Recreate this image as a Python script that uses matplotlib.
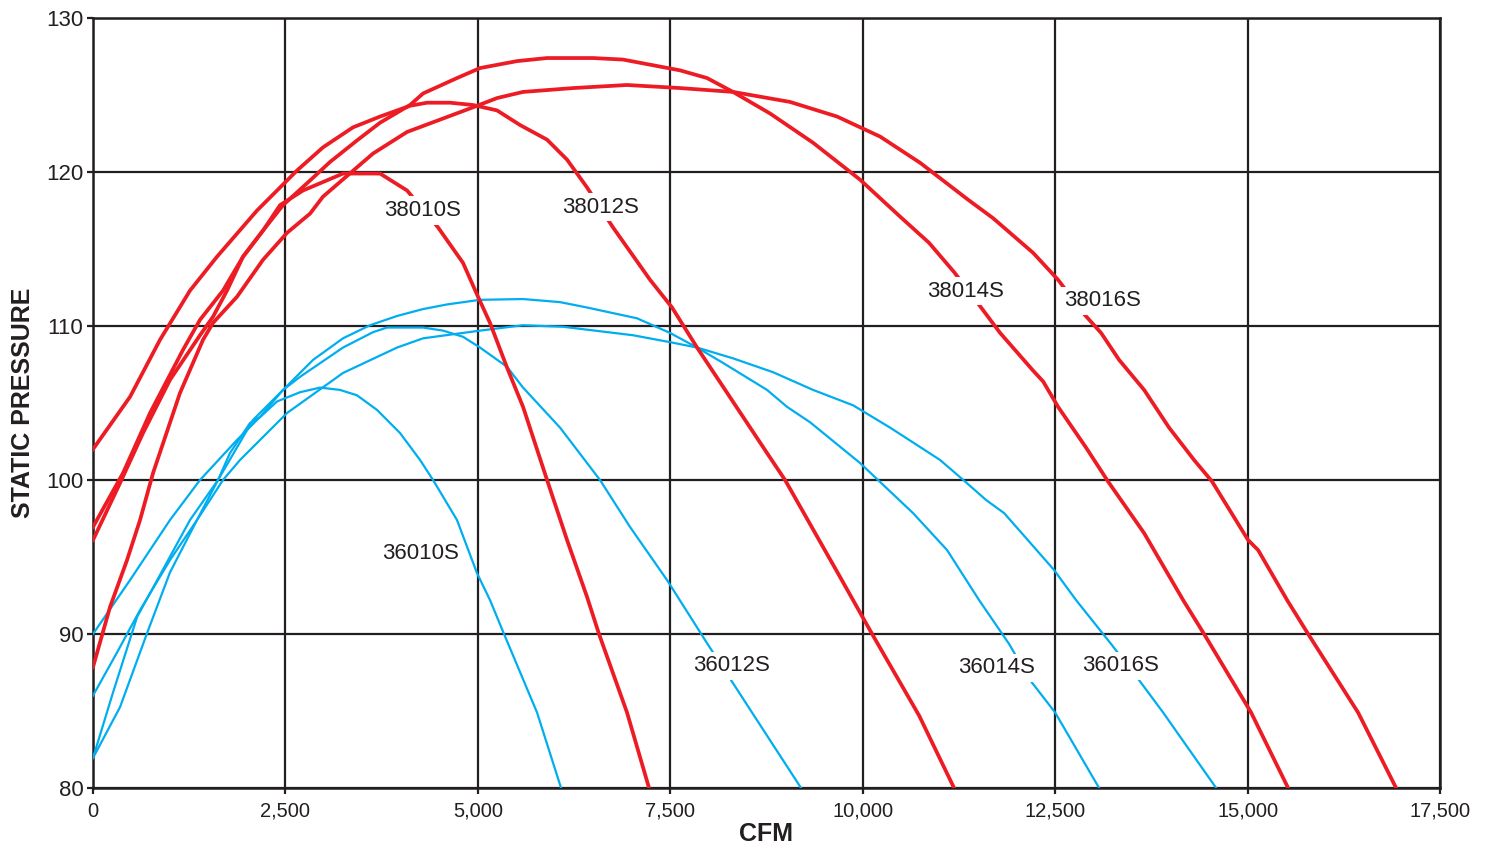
import matplotlib
matplotlib.use('Agg')
import matplotlib.pyplot as plt

plt.rcParams['font.family'] = ['Liberation Sans', 'DejaVu Sans']

# red curves (38xxx series)
cfm_38010 = [0, 351, 650, 1000, 1390, 1559, 1741, 1949, 2209, 2430, 2729, 3248, 3729, 4080,
             4483, 4807, 5002, 5158, 5379, 5587, 5899, 6159, 6419, 6574, 6938, 7224]
sp_38010 = [96.1, 99.8, 103.05, 106.5, 109.4, 110.6, 112.3, 114.5, 116.2, 117.85, 118.8, 119.9,
            119.9, 118.8, 116.4, 114.1, 111.9, 110.2, 107.3, 104.75, 100.0, 96.1, 92.4, 90.0,
            84.9, 80.0]

cfm_38012 = [0, 481, 870, 1260, 1611, 2131, 2651, 2988, 3378, 3729, 4119, 4340, 4638, 4937,
             5249, 5548, 5899, 6159, 6418, 6756, 7237, 7523, 7848, 8757, 8991, 9706, 10122,
             10733, 11187]
sp_38012 = [102.0, 105.4, 109.1, 112.3, 114.5, 117.5, 120.1, 121.6, 122.9, 123.6, 124.3, 124.5,
            124.5, 124.35, 124.0, 123.05, 122.1, 120.8, 119.0, 116.4, 113.0, 111.2, 108.6,
            101.75, 100.0, 93.7, 90.0, 84.7, 80.0]

cfm_38014 = [0, 390, 741, 1169, 1390, 1689, 1949, 2209, 2469, 2820, 3079, 3430, 3729,
             4119, 4288, 4729, 5028, 5509, 5899, 6497, 6886, 7627, 7978, 8315, 8796, 9355,
             9966, 10486, 10862, 11187, 11538, 11785, 12214, 12344, 12538, 12902, 13188,
             13656, 14163, 14435, 15046, 15527]
sp_38014 = [96.95, 100.45, 104.35, 108.45, 110.4, 112.3, 114.5, 116.2, 117.85, 119.45,
            120.65, 122.05, 123.2, 124.35, 125.1, 126.1, 126.75, 127.2, 127.4, 127.4, 127.3,
            126.6, 126.1, 125.2, 123.8, 121.9, 119.5, 117.1, 115.4, 113.5, 111.2, 109.55,
            107.1, 106.4, 104.75, 102.1, 99.9, 96.55, 92.2, 90.0, 84.9, 80.0]

cfm_38016 = [0, 221, 442, 611, 780, 1130, 1429, 1559, 1871, 2209, 2521, 2820, 2988, 3638,
             4080, 4937, 5249, 5587, 6237, 6938, 7627, 8315, 9056, 9667, 10226, 10745, 11369,
             11694, 12214, 12538, 12889, 13097, 13331, 13656, 13980, 14305, 14539, 15007,
             15137, 15514, 15787, 16436, 16930]
sp_38016 = [87.85, 91.75, 94.8, 97.4, 100.45, 105.65, 109.1, 110.2, 111.9, 114.3, 116.05,
            117.3, 118.4, 121.2, 122.6, 124.2, 124.8, 125.2, 125.45, 125.65, 125.45, 125.2,
            124.55, 123.6, 122.3, 120.6, 118.2, 117.0, 114.75, 113.0, 110.7, 109.55, 107.8,
            105.85, 103.4, 101.3, 99.9, 96.1, 95.45, 92.2, 90.0, 84.9, 80.0]

# blue curves (36xxx series)
cfm_36010 = [0, 481, 1000, 1390, 1871, 2131, 2391, 2690, 2950, 3209, 3430, 3690, 3989, 4249,
             4418, 4729, 4989, 5158, 5340, 5769, 6081]
sp_36010 = [90.0, 93.5, 97.4, 100.0, 102.6, 103.9, 105.1, 105.7, 106.0, 105.85, 105.5, 104.55,
            103.05, 101.3, 100.0, 97.4, 93.95, 92.2, 90.0, 84.9, 80.0]

cfm_36012 = [0, 312, 442, 611, 1000, 1351, 1624, 1780, 2040, 2170, 2469, 2690, 3248, 3638,
             3820, 4288, 4548, 4807, 5028, 5379, 5587, 6068, 6587, 6977, 7458, 7991, 8290,
             8562, 9199]
sp_36012 = [86.0, 88.8, 90.0, 91.55, 94.8, 97.4, 100.0, 101.75, 103.7, 104.1, 105.85, 106.7,
            108.6, 109.6, 109.9, 109.9, 109.7, 109.3, 108.6, 107.35, 106.0, 103.4, 100.0,
            96.95, 93.5, 89.3, 87.0, 84.9, 80.0]

cfm_36014 = [0, 260, 572, 1260, 1624, 2079, 2599, 2859, 3248, 3599, 3950, 4288, 4600, 5028,
             5587, 6068, 6419, 7068, 7497, 7848, 8186, 8757, 9017, 9316, 9966, 10654, 11096,
             11512, 11902, 12175, 12500, 13071]
sp_36014 = [81.95, 86.2, 91.1, 97.4, 100.0, 103.9, 106.5, 107.8, 109.2, 110.05, 110.65, 111.1,
            111.4, 111.7, 111.75, 111.55, 111.2, 110.5, 109.55, 108.6, 107.6, 105.85, 104.75,
            103.75, 101.1, 97.85, 95.45, 92.2, 89.35, 87.0, 84.9, 80.0]

cfm_36016 = [0, 351, 702, 1000, 1351, 1689, 1910, 2521, 3248, 3950, 4288, 5028, 5587, 6107,
             7016, 7497, 7848, 8315, 8835, 9355, 9875, 10356, 11005, 11330, 11603, 11837,
             12110, 12487, 12772, 13227, 13591, 13903, 14592]
sp_36016 = [81.95, 85.25, 90.05, 94.0, 97.4, 100.0, 101.3, 104.35, 106.95, 108.6, 109.2, 109.7,
            110.05, 109.95, 109.4, 108.95, 108.6, 107.9, 107.0, 105.85, 104.85, 103.4, 101.3,
            99.9, 98.7, 97.85, 96.3, 94.15, 92.2, 89.35, 87.0, 84.9, 80.0]

# label text and where it sits (cfm, static pressure)
labels = ['38010S', '38012S', '38014S', '38016S', '36010S', '36012S', '36014S', '36016S']
label_x = [4280, 6600, 11330, 13120, 4250, 8300, 11740, 13350]
label_y = [117.5, 117.7, 112.25, 111.65, 95.2, 87.95, 87.8, 87.95]

red = '#ed1c24'
blue = '#00aeef'
ink = '#231f20'

fig = plt.figure(figsize=(14.88, 8.5), dpi=100)
ax = fig.add_axes([93 / 1488, 1 - 788 / 850, (1440 - 93) / 1488, (788 - 18) / 850])

for xs, ys in [(cfm_36010, sp_36010), (cfm_36012, sp_36012),
               (cfm_36014, sp_36014), (cfm_36016, sp_36016)]:
    ax.plot(xs, ys, color=blue, lw=1.6, zorder=3)
for xs, ys in [(cfm_38010, sp_38010), (cfm_38012, sp_38012),
               (cfm_38014, sp_38014), (cfm_38016, sp_38016)]:
    ax.plot(xs, ys, color=red, lw=2.7, zorder=4)

for t, lx, ly in zip(labels, label_x, label_y):
    ax.text(lx, ly, t, fontsize=16, color=ink, ha='center', va='center', zorder=6,
            bbox=dict(facecolor='white', edgecolor='none', pad=2.5))

ax.set_xlim(0, 17500)
ax.set_ylim(80, 130)
ax.set_xticks(range(0, 17501, 2500))
ax.set_xticklabels([f'{v:,}' for v in range(0, 17501, 2500)])
ax.set_yticks(range(80, 131, 10))
ax.grid(True, color=ink, lw=1.6, zorder=1)
ax.set_axisbelow(True)
for s in ax.spines.values():
    s.set_color(ink)
    s.set_linewidth(1.8)
ax.tick_params(axis='x', length=4, width=1.6, color=ink, labelsize=14.5, labelcolor=ink, pad=6)
ax.tick_params(axis='y', length=4, width=1.6, color=ink, labelsize=16, labelcolor=ink, pad=3)

ax.set_xlabel('CFM', fontsize=18, fontweight='bold', color=ink, labelpad=1)
ax.set_ylabel('STATIC PRESSURE', fontsize=18, fontweight='bold', color=ink, labelpad=8)

fig.savefig('out.png', dpi=100)
